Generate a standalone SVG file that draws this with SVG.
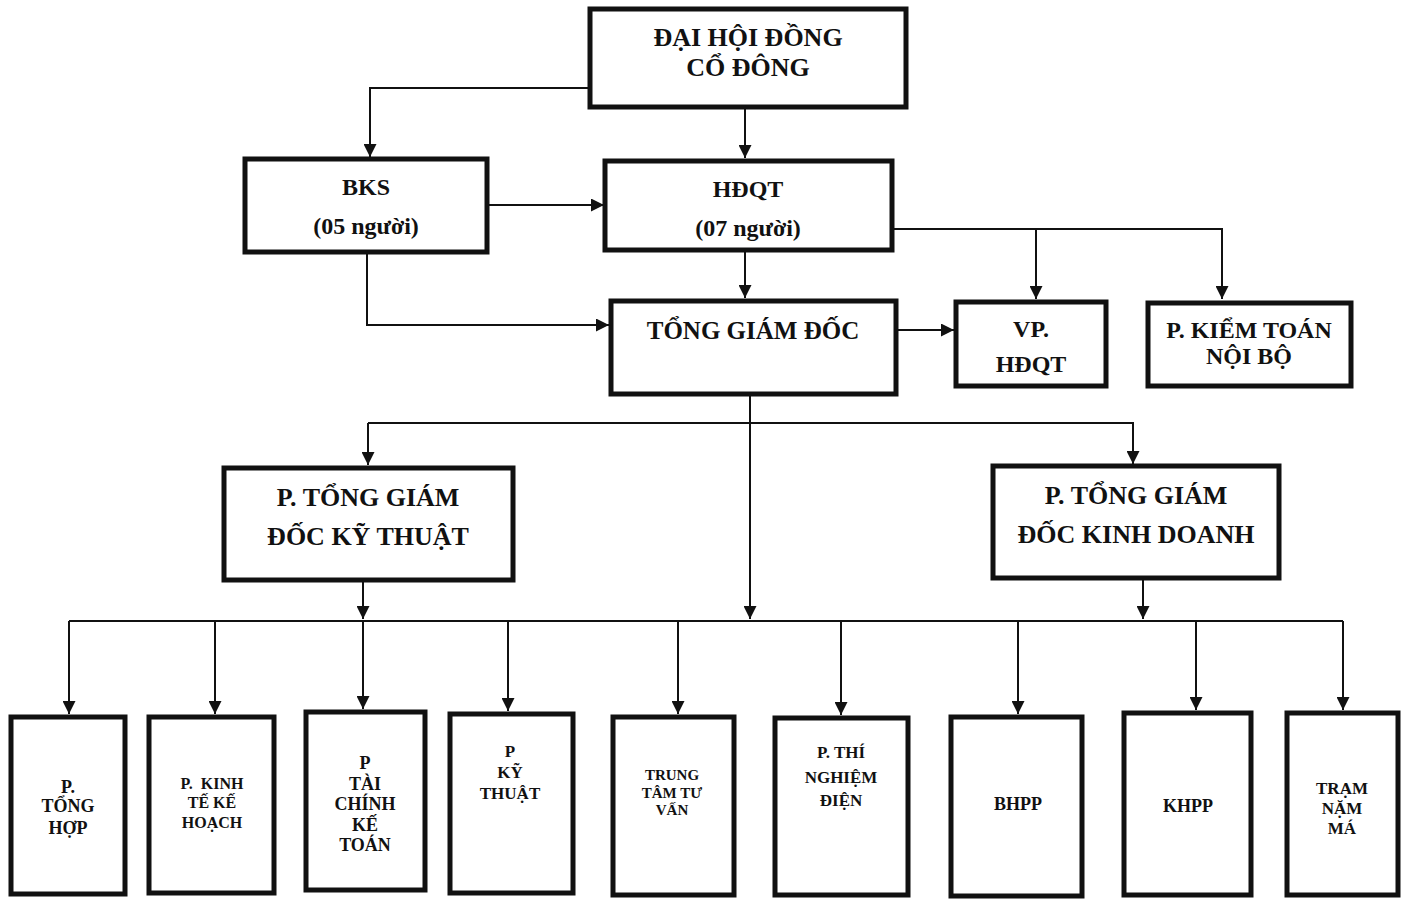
<svg xmlns="http://www.w3.org/2000/svg" width="1406" height="899" viewBox="0 0 1406 899">
<defs>
<style>
.box{fill:#fff;stroke:#111;stroke-width:5}
.ln{fill:none;stroke:#111;stroke-width:2}
.t{font-family:"Liberation Serif","Times New Roman",serif;font-weight:bold;fill:#111;text-anchor:middle;white-space:pre}
.t26{font-size:26px}
.t25{font-size:25px}
.t24{font-size:24px}
.t18{font-size:18px}
.t17{font-size:17px}
.t16{font-size:16px}
.t15{font-size:15px}
</style>
<marker id="ah" viewBox="0 0 12 12" refX="12" refY="6" markerWidth="13" markerHeight="13" markerUnits="userSpaceOnUse" orient="auto">
<path d="M0,0 L12,6 L0,12 z" fill="#111"/>
</marker>
</defs>
<rect width="1406" height="899" fill="#fff"/>

<g id="connectors">
<path class="ln" d="M590,88 H370 V157" marker-end="url(#ah)"/>
<path class="ln" d="M745,107 V158" marker-end="url(#ah)"/>
<path class="ln" d="M487,205 H604" marker-end="url(#ah)"/>
<path class="ln" d="M892,229 H1222 V299" marker-end="url(#ah)"/>
<path class="ln" d="M1036,229 V299" marker-end="url(#ah)"/>
<path class="ln" d="M745,250 V298" marker-end="url(#ah)"/>
<path class="ln" d="M367,252 V325 H609" marker-end="url(#ah)"/>
<path class="ln" d="M896,330 H954" marker-end="url(#ah)"/>
<path class="ln" d="M750,394 V619" marker-end="url(#ah)"/>
<path class="ln" d="M368,423 H1133 V464" marker-end="url(#ah)"/>
<path class="ln" d="M368,423 V465" marker-end="url(#ah)"/>
<path class="ln" d="M363,580 V619" marker-end="url(#ah)"/>
<path class="ln" d="M1143,578 V619" marker-end="url(#ah)"/>
<path class="ln" d="M69,621 H1343"/>
<path class="ln" d="M69,621 V714" marker-end="url(#ah)"/>
<path class="ln" d="M215,621 V714" marker-end="url(#ah)"/>
<path class="ln" d="M363,621 V709" marker-end="url(#ah)"/>
<path class="ln" d="M508,621 V711" marker-end="url(#ah)"/>
<path class="ln" d="M678,621 V714" marker-end="url(#ah)"/>
<path class="ln" d="M841,621 V715" marker-end="url(#ah)"/>
<path class="ln" d="M1018,621 V714" marker-end="url(#ah)"/>
<path class="ln" d="M1196,621 V710" marker-end="url(#ah)"/>
<path class="ln" d="M1343,621 V710" marker-end="url(#ah)"/>
</g>

<g id="dhdcd">
<rect class="box" x="590" y="9" width="316" height="98"/>
<text class="t t26" x="748" y="46">ĐẠI HỘI ĐỒNG</text>
<text class="t t26" x="748" y="76">CỔ ĐÔNG</text>
</g>
<g id="bks">
<rect class="box" x="245" y="159" width="242" height="93"/>
<text class="t t24" x="366" y="195">BKS</text>
<text class="t t24" x="366" y="234">(05 người)</text>
</g>
<g id="hdqt">
<rect class="box" x="605" y="161" width="287" height="89"/>
<text class="t t24" x="748" y="197">HĐQT</text>
<text class="t t24" x="748" y="236">(07 người)</text>
</g>
<g id="tgd">
<rect class="box" x="611" y="301" width="285" height="93"/>
<text class="t t25" x="753" y="339">TỔNG GIÁM ĐỐC</text>
</g>
<g id="vp">
<rect class="box" x="956" y="302" width="150" height="84"/>
<text class="t t24" x="1031" y="337">VP.</text>
<text class="t t24" x="1031" y="372">HĐQT</text>
</g>
<g id="kiemtoan">
<rect class="box" x="1148" y="303" width="203" height="83"/>
<text class="t t24" x="1249" y="338">P. KIỂM TOÁN</text>
<text class="t t24" x="1249" y="364">NỘI BỘ</text>
</g>
<g id="ptgd-kt">
<rect class="box" x="224" y="468" width="289" height="112"/>
<text class="t t26" x="368" y="506">P. TỔNG GIÁM</text>
<text class="t t26" x="368" y="545">ĐỐC KỸ THUẬT</text>
</g>
<g id="ptgd-kd">
<rect class="box" x="993" y="466" width="286" height="112"/>
<text class="t t26" x="1136" y="504">P. TỔNG GIÁM</text>
<text class="t t26" x="1136" y="543">ĐỐC KINH DOANH</text>
</g>

<g id="p-tong-hop">
<rect class="box" x="11" y="717" width="114" height="177"/>
<text class="t t18" x="68" y="793">P.</text>
<text class="t t18" x="68" y="812">TỔNG</text>
<text class="t t18" x="68" y="834">HỢP</text>
</g>
<g id="p-kinh-te">
<rect class="box" x="149" y="717" width="125" height="176"/>
<text class="t t16" x="212" y="789">P.  KINH</text>
<text class="t t16" x="212" y="808">TẾ KẾ</text>
<text class="t t16" x="212" y="828">HOẠCH</text>
</g>
<g id="p-tai-chinh">
<rect class="box" x="306" y="712" width="119" height="178"/>
<text class="t t18" x="365" y="769">P</text>
<text class="t t18" x="365" y="790">TÀI</text>
<text class="t t18" x="365" y="810">CHÍNH</text>
<text class="t t18" x="365" y="831">KẾ</text>
<text class="t t18" x="365" y="851">TOÁN</text>
</g>
<g id="p-ky-thuat">
<rect class="box" x="450" y="714" width="123" height="179"/>
<text class="t t17" x="510" y="757">P</text>
<text class="t t17" x="510" y="778">KỸ</text>
<text class="t t17" x="510" y="799">THUẬT</text>
</g>
<g id="trung-tam">
<rect class="box" x="613" y="717" width="121" height="178"/>
<text class="t t15" x="672" y="780">TRUNG</text>
<text class="t t15" x="672" y="798">TÂM TƯ</text>
<text class="t t15" x="672" y="815">VẤN</text>
</g>
<g id="p-thi-nghiem">
<rect class="box" x="775" y="718" width="133" height="177"/>
<text class="t t17" x="841" y="758">P. THÍ</text>
<text class="t t17" x="841" y="783">NGHIỆM</text>
<text class="t t17" x="841" y="806">ĐIỆN</text>
</g>
<g id="bhpp">
<rect class="box" x="951" y="717" width="131" height="179"/>
<text class="t t18" x="1018" y="810">BHPP</text>
</g>
<g id="khpp">
<rect class="box" x="1124" y="713" width="127" height="182"/>
<text class="t t18" x="1188" y="812">KHPP</text>
</g>
<g id="tram-nam-ma">
<rect class="box" x="1287" y="713" width="111" height="182"/>
<text class="t t17" x="1342" y="794">TRẠM</text>
<text class="t t17" x="1342" y="814">NẶM</text>
<text class="t t17" x="1342" y="834">MÁ</text>
</g>
</svg>
